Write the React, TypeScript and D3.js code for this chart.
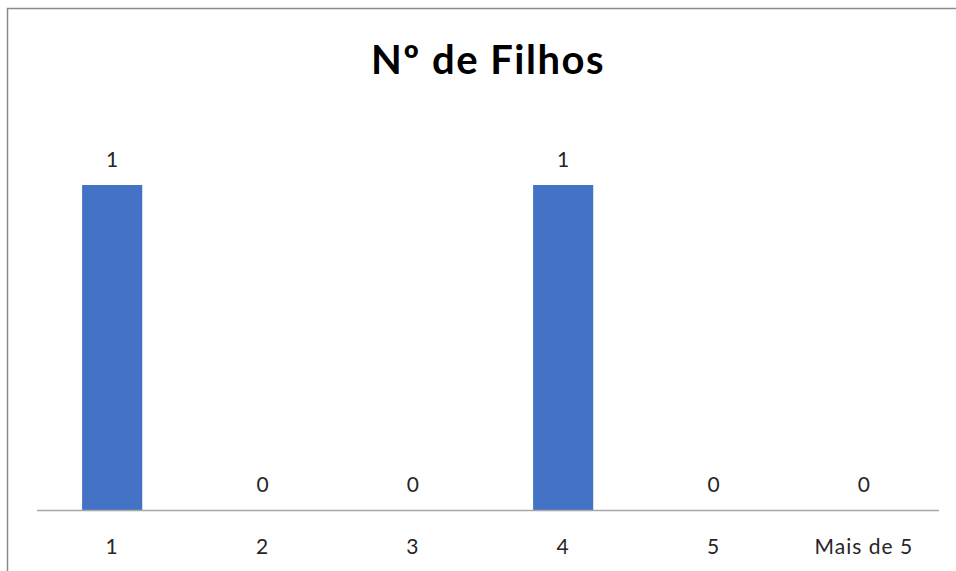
import React from "react";
import * as d3 from "d3";

const categories = ["1", "2", "3", "4", "5", "Mais de 5"];
const values = [1, 0, 0, 1, 0, 0];
const title = "Nº de Filhos";

const W = 956;
const H = 571;

export default function App() {
  const x = d3
    .scaleBand<string>()
    .domain(categories)
    .range([37, 939])
    .paddingInner(0.6)
    .paddingOuter(0.3);
  const y = d3.scaleLinear().domain([0, 1]).range([510, 185]);
  const font = "Lato, Open Sans, sans-serif";
  return (
    <div style={{ position: "fixed", left: 0, top: 0 }}>
      <svg width={W} height={H} style={{ display: "block", background: "#fff" }}>
        <rect x={7.5} y={8.5} width={1000} height={700} fill="#fff" stroke="#8a8a8a" strokeWidth={1.5} />
        <text
          x={488}
          y={74}
          textAnchor="middle"
          fontFamily={font}
          fontWeight="bold"
          fontSize={40}
          letterSpacing={1.5}
          fill="#000"
        >
          {title}
        </text>
        {categories.map((c, i) => (
          <rect
            key={c}
            x={x(c)!}
            y={y(values[i])}
            width={x.bandwidth()}
            height={y(0) - y(values[i])}
            fill="#4472C4"
          />
        ))}
        <line x1={37} x2={939} y1={510.5} y2={510.5} stroke="#a6a6a6" strokeWidth={1.5} />
        {categories.map((c, i) => (
          <text
            key={"v" + c}
            x={x(c)! + x.bandwidth() / 2}
            y={y(values[i]) - 18}
            textAnchor="middle"
            fontFamily={font}
            fontSize={21}
            fill="#262626"
          >
            {values[i]}
          </text>
        ))}
        {categories.map((c) => (
          <text
            key={"t" + c}
            x={x(c)! + x.bandwidth() / 2}
            y={554}
            textAnchor="middle"
            fontFamily={font}
            fontSize={21}
            letterSpacing={1}
            fill="#262626"
          >
            {c}
          </text>
        ))}
      </svg>
    </div>
  );
}
